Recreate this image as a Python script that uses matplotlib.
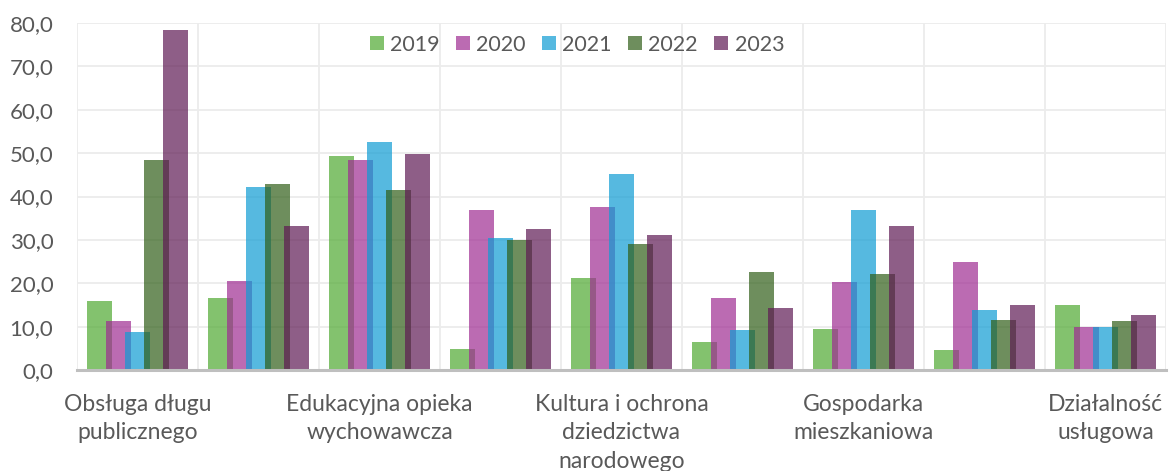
import numpy as np
import matplotlib
matplotlib.use("Agg")
import matplotlib.pyplot as plt
from matplotlib.ticker import FuncFormatter

plt.rcParams['font.family'] = ['Lato', 'DejaVu Sans']

# every second category label is hidden in the reference chart
categories = ["Obsługa długu\npublicznego", "",
              "Edukacyjna opieka\nwychowawcza", "",
              "Kultura i ochrona\ndziedzictwa\nnarodowego", "",
              "Gospodarka\nmieszkaniowa", "",
              "Działalność\nusługowa"]
years = ["2019", "2020", "2021", "2022", "2023"]

v2019 = [15.9, 16.7, 49.3, 4.8, 21.2, 6.5, 9.4, 4.5, 15.0]
v2020 = [11.4, 20.5, 48.5, 37.0, 37.6, 16.5, 20.3, 24.8, 10.0]
v2021 = [8.8, 42.2, 52.5, 30.4, 45.2, 9.3, 37.0, 13.9, 10.0]
v2022 = [48.5, 42.8, 41.5, 30.0, 29.0, 22.6, 22.1, 11.5, 11.4]
v2023 = [78.3, 33.3, 49.7, 32.4, 31.2, 14.2, 33.3, 15.0, 12.7]
series = [v2019, v2020, v2021, v2022, v2023]

# base colours, drawn with transparency like the Excel original
colors = ["#4fa931", "#9f2c92", "#0f9cd4", "#305f18", "#5f1a54"]
ALPHA = 0.7

fig = plt.figure(figsize=(11.69, 4.71), dpi=100)
ax = fig.add_axes([0.0659, 0.2144, 0.9315, 0.7368])

x = np.arange(len(categories))
step = 19 / 121
width = 25 / 121
for i, (vals, c, yr) in enumerate(zip(series, colors, years)):
    ax.bar(x + (i - 2) * step, vals, width=width, color=c, alpha=ALPHA,
           label=yr, linewidth=0, zorder=3)

ax.set_xlim(-0.5, len(categories) - 0.5)
ax.set_ylim(0, 80)
ax.set_yticks(np.arange(0, 81, 10))
ax.yaxis.set_major_formatter(FuncFormatter(lambda v, p: f"{v:.1f}".replace(".", ",")))

ax.set_xticks(x)
ax.set_xticklabels(categories)
ax.set_xticks(np.arange(-0.5, len(categories), 1), minor=True)

ax.grid(axis='y', which='major', color='#ececec', linewidth=1.3, zorder=0)
ax.grid(axis='x', which='minor', color='#ececec', linewidth=1.3, zorder=0)
ax.grid(axis='x', which='major', visible=False)

for s in ['top', 'right', 'left']:
    ax.spines[s].set_visible(False)
ax.spines['bottom'].set_color('#bfbfbf')
ax.spines['bottom'].set_linewidth(2.2)
ax.spines['bottom'].set_zorder(4)

ax.tick_params(axis='both', which='both', length=0)
ax.tick_params(axis='y', labelsize=16, labelcolor='#595959', pad=17)
ax.tick_params(axis='x', labelsize=16.5, labelcolor='#595959', pad=17)
for lbl in ax.get_xticklabels():
    lbl.set_linespacing(1.45)

ax.legend(loc='center', bbox_to_anchor=(0.459, 0.937), ncol=5, frameon=False,
          fontsize=15.5, labelcolor='#595959', handlelength=0.65, handleheight=0.65,
          handletextpad=0.3, columnspacing=0.75)

fig.savefig("out.png", dpi=100)
